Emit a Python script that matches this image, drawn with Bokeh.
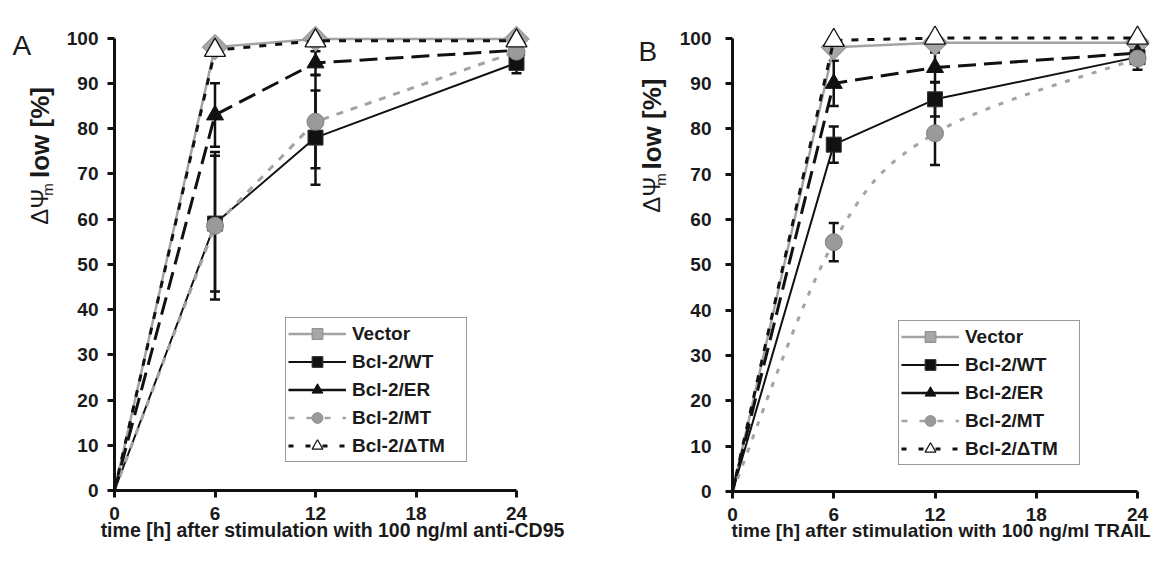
import numpy as np
from bokeh.plotting import figure
from bokeh.models import (ColumnDataSource, Whisker, TeeHead, FixedTicker,
                          Legend, LegendItem, Range1d)
from bokeh.core.properties import value
from bokeh.layouts import row
from bokeh.embed import file_html
from bokeh.resources import INLINE

# ---------------- data ----------------
hours = [0, 6, 12, 24]
x_ticks = [0, 6, 12, 18, 24]
y_ticks = [0, 10, 20, 30, 40, 50, 60, 70, 80, 90, 100]
series_names = ["Vector", "Bcl-2/WT", "Bcl-2/ER", "Bcl-2/MT", "Bcl-2/\u0394TM"]

# Panel A: anti-CD95
vector_a = [0, 98.0, 99.8, 99.8]
wt_a = [0, 59.0, 78.0, 94.5]
wt_a_err = [0, 15.0, 10.4, 2.3]
er_a = [0, 83.0, 94.5, 97.3]
er_a_err = [0, 7.0, 2.6, 0]
mt_a = [0, 58.5, 81.5, 97.0]
mt_a_err = [0, 16.3, 10.3, 0]
dtm_a = [0, 97.3, 99.4, 99.4]

# Panel B: TRAIL
vector_b = [0, 98.0, 99.0, 99.0]
wt_b = [0, 76.5, 86.5, 95.8]
wt_b_err = [0, 4.0, 3.8, 0]
er_b = [0, 90.0, 93.5, 96.7]
er_b_err = [0, 5.0, 3.3, 0]
mt_b = [0, 55.0, 79.0, 95.5]
mt_b_err = [0, 4.2, 7.0, 2.5]
dtm_b = [0, 99.5, 100.0, 100.0]

xlabel_a = "time [h] after stimulation with 100 ng/ml anti-CD95"
xlabel_b = "time [h] after stimulation with 100 ng/ml TRAIL"
ylabel_parts = ["\u0394\u03a8", "m", "low [%]"]

FONT = "Liberation Sans"
TXT = "#1a1a1a"
BLK = "#111111"
GRAY_LINE = "#a3a3a3"
GRAY_FILL = "#a6a6a6"
GRAY_EDGE = "#8a8a8a"
H = 547


def bezier_parts(xs, ys):
    n = len(xs)
    out = {k: [] for k in ["x0", "y0", "x1", "y1", "cx0", "cy0", "cx1", "cy1"]}
    for i in range(n - 1):
        xm = xs[i - 1] if i > 0 else xs[i]
        ym = ys[i - 1] if i > 0 else ys[i]
        xp = xs[i + 2] if i + 2 < n else xs[i + 1]
        yp = ys[i + 2] if i + 2 < n else ys[i + 1]
        out["x0"].append(xs[i]); out["y0"].append(ys[i])
        out["x1"].append(xs[i + 1]); out["y1"].append(ys[i + 1])
        out["cx0"].append(xs[i] + (xs[i + 1] - xm) / 6.0)
        out["cy0"].append(ys[i] + (ys[i + 1] - ym) / 6.0)
        out["cx1"].append(xs[i + 1] - (xp - xs[i]) / 6.0)
        out["cy1"].append(ys[i + 1] - (yp - ys[i]) / 6.0)
    return out


def whisker(p, vals, errs):
    base = [h for h, e in zip(hours, errs) if e > 0]
    up = [v + e for v, e in zip(vals, errs) if e > 0]
    lo = [v - e for v, e in zip(vals, errs) if e > 0]
    src = ColumnDataSource(dict(base=base, upper=up, lower=lo))
    w = Whisker(source=src, base="base", upper="upper", lower="lower",
                line_color=BLK, line_width=2.5,
                upper_head=TeeHead(size=10, line_color=BLK, line_width=2.5),
                lower_head=TeeHead(size=10, line_color=BLK, line_width=2.5))
    p.add_layout(w)


def text_strip(width, letter, letter_xy, mid_x, sub_dx, starts):
    """Narrow figure holding the panel letter and the rotated y-axis title."""
    s = figure(width=width, height=H, min_border=0, title=None,
               x_range=Range1d(0, width), y_range=Range1d(0, H),
               x_axis_location=None, y_axis_location=None,
               output_backend="svg", toolbar_location=None)
    s.outline_line_color = None
    s.grid.visible = False
    s.text(x=[letter_xy[0]], y=[H - letter_xy[1]], text=[letter], text_font=value(FONT),
           text_font_size=value("28px"), text_color=TXT, text_align="left",
           text_baseline="middle")
    s.text(x=[mid_x], y=[H - starts[0]], text=[ylabel_parts[0]], angle=np.pi / 2,
           text_font=value(FONT), text_font_size=value("24px"), text_color=TXT,
           text_align="left", text_baseline="middle")
    s.text(x=[mid_x + sub_dx], y=[H - starts[1]], text=[ylabel_parts[1]], angle=np.pi / 2,
           text_font=value(FONT), text_font_size=value("15px"), text_color=TXT,
           text_align="left", text_baseline="middle")
    s.text(x=[mid_x], y=[H - starts[2]], text=[ylabel_parts[2]], angle=np.pi / 2,
           text_font=value(FONT), text_font_style="bold", text_font_size=value("26px"),
           text_color=TXT, text_align="left", text_baseline="middle")
    return s


def make_panel(vec, wt, wt_err, er, er_err, mt, mt_err, dtm, xlabel, xlabel_size,
               left, fw, xend, right, top, fh, bottom, smooth_mt, ystand, legend_loc):
    p = figure(frame_width=fw, frame_height=fh, min_border_left=left,
               min_border_right=right, min_border_top=top, min_border_bottom=bottom,
               x_range=Range1d(0, xend), y_range=Range1d(0, 103),
               output_backend="svg", toolbar_location=None)
    p.outline_line_color = None
    p.grid.visible = False

    for ax in (p.xaxis[0], p.yaxis[0]):
        ax.axis_line_width = 3
        ax.axis_line_color = BLK
        ax.major_tick_line_width = 3
        ax.major_tick_line_color = BLK
        ax.major_tick_in = 0
        ax.major_tick_out = 7
        ax.minor_tick_line_color = None
        ax.major_label_text_font = FONT
        ax.major_label_text_font_style = "bold"
        ax.major_label_text_font_size = "19px"
        ax.major_label_text_color = TXT
    p.xaxis[0].ticker = FixedTicker(ticks=x_ticks)
    p.yaxis[0].ticker = FixedTicker(ticks=y_ticks)
    p.xaxis[0].bounds = (0, 24)
    p.yaxis[0].bounds = (0, 100)
    p.xaxis[0].major_label_standoff = 9
    p.yaxis[0].major_label_standoff = ystand
    p.xaxis[0].axis_label = xlabel
    p.xaxis[0].axis_label_standoff = -4
    p.xaxis[0].axis_label_text_font = FONT
    p.xaxis[0].axis_label_text_font_style = "bold"
    p.xaxis[0].axis_label_text_font_size = xlabel_size
    p.xaxis[0].axis_label_text_color = TXT

    # error bars
    whisker(p, wt, wt_err)
    whisker(p, er, er_err)
    whisker(p, mt, mt_err)

    # Vector
    p.line(hours, vec, line_color=GRAY_LINE, line_width=2.5)
    p.scatter(hours[1:], vec[1:], marker="square", angle=np.pi / 4, size=18,
              fill_color=GRAY_FILL, line_color=GRAY_EDGE, line_width=1)
    # WT
    p.line(hours, wt, line_color=BLK, line_width=2)
    p.scatter(hours[1:], wt[1:], marker="square", size=15,
              fill_color=BLK, line_color="#333333", line_width=1)
    # ER
    p.line(hours, er, line_color=BLK, line_width=3, line_dash="18 8")
    p.scatter(hours[1:], er[1:], marker="triangle", size=17,
              fill_color=BLK, line_color=BLK, line_width=1)
    # MT
    if smooth_mt:
        bz = bezier_parts(hours, mt)
        p.bezier(source=ColumnDataSource(bz), x0="x0", y0="y0", x1="x1", y1="y1",
                 cx0="cx0", cy0="cy0", cx1="cx1", cy1="cy1",
                 line_color=GRAY_LINE, line_width=3, line_dash="5 9")
    else:
        p.line(hours, mt, line_color=GRAY_LINE, line_width=3, line_dash="7 8")
    p.scatter(hours[1:], mt[1:], marker="circle", size=17,
              fill_color="#9a9a9a", line_color="#808080", line_width=1)
    # dTM
    p.line(hours, dtm, line_color=BLK, line_width=3, line_dash="7 9")
    p.scatter(hours[1:], dtm[1:], marker="triangle", size=21,
              fill_color="white", line_color=BLK, line_width=1.3)

    # legend with its own sample glyphs (single NaN point: nothing drawn in the plot)
    specs = [
        (dict(line_color=GRAY_LINE, line_width=2.5),
         dict(marker="square", angle=np.pi / 4, fill_color=GRAY_FILL, line_color=GRAY_EDGE)),
        (dict(line_color=BLK, line_width=2),
         dict(marker="square", fill_color=BLK, line_color="#333333")),
        (dict(line_color=BLK, line_width=2.5),
         dict(marker="triangle", fill_color=BLK, line_color=BLK)),
        (dict(line_color=GRAY_LINE, line_width=2.5, line_dash="6 12"),
         dict(marker="circle", fill_color="#9a9a9a", line_color="#909090")),
        (dict(line_color=BLK, line_width=3, line_dash="5 12"),
         dict(marker="triangle", fill_color="white", line_color=BLK, line_width=1.2)),
    ]
    items = []
    for name, (lk, mk) in zip(series_names, specs):
        r1 = p.line([np.nan], [np.nan], **lk)
        r2 = p.scatter([np.nan], [np.nan], **mk)
        items.append(LegendItem(label=name, renderers=[r1, r2]))
    leg = Legend(items=items, location=legend_loc,
                 border_line_color="#333333", border_line_width=1.5,
                 background_fill_color="white", background_fill_alpha=1,
                 label_text_font=FONT, label_text_font_style="bold",
                 label_text_font_size="19px", label_text_color=TXT,
                 glyph_width=58, glyph_height=27, label_height=20, label_width=112,
                 spacing=1, padding=2, margin=0, label_standoff=6)
    p.add_layout(leg)
    return p


strip_a = text_strip(62, "A", (12, 25), 39, 8, (236, 202, 181))
pa = make_panel(vector_a, wt_a, wt_a_err, er_a, er_a_err, mt_a, mt_a_err, dtm_a,
                xlabel_a, "19.5px", left=52, fw=436, xend=436 / 16.75, right=70,
                top=24, fh=466, bottom=57, smooth_mt=False, ystand=9, legend_loc=(171, 28))
strip_b = text_strip(56, "B", (18, 32), 31, 9, (222, 190, 171))
pb = make_panel(vector_b, wt_b, wt_b_err, er_b, er_b_err, mt_b, mt_b_err, dtm_b,
                xlabel_b, "19px", left=56, fw=417, xend=417 / 16.875, right=4,
                top=21, fh=467, bottom=59, smooth_mt=True, ystand=14, legend_loc=(166, 26))

layout = row(strip_a, pa, strip_b, pb)
open("out.html", "w").write(file_html(layout, INLINE))
